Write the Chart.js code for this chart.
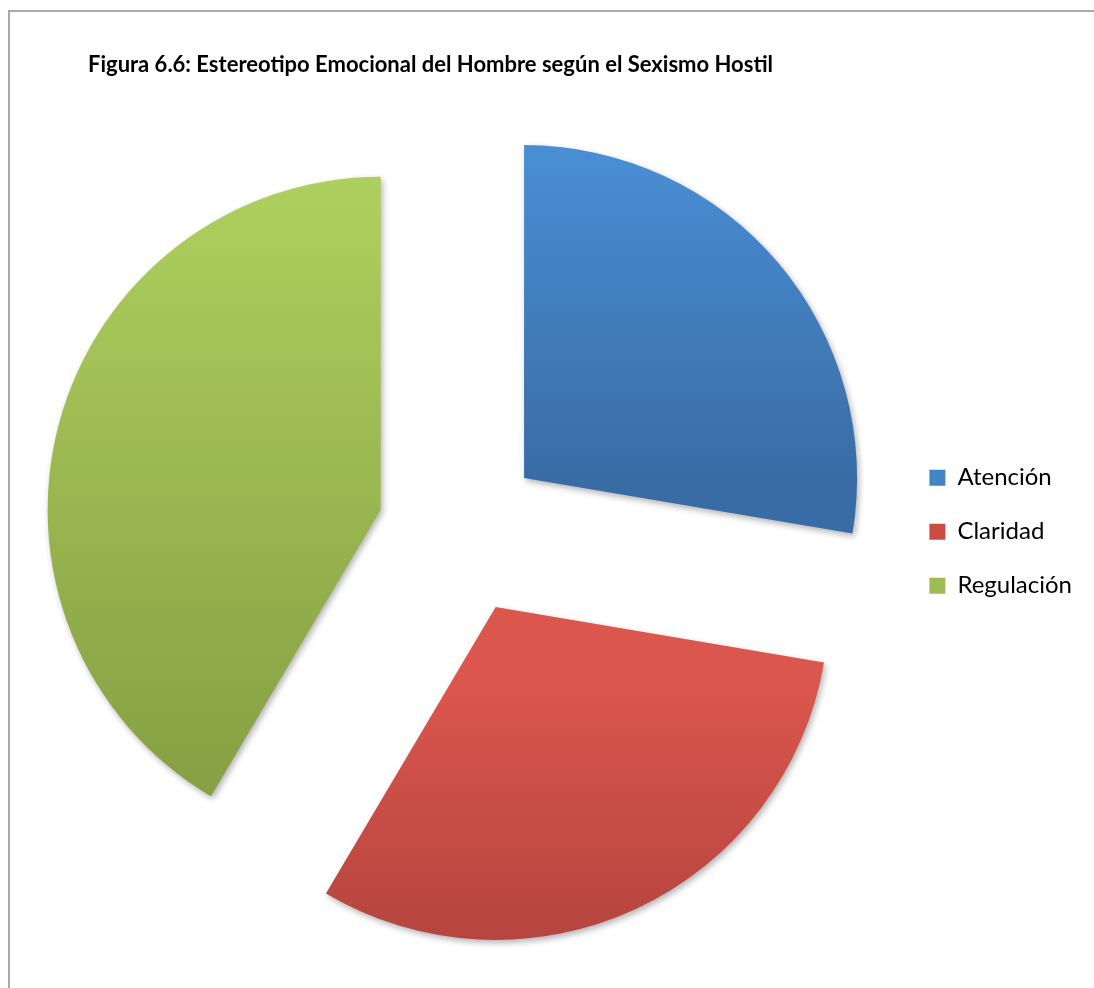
<!DOCTYPE html>
<html>
<head>
<meta charset="utf-8">
<script src="https://cdn.jsdelivr.net/npm/chart.js@4/dist/chart.umd.min.js"></script>
<style>
  body { margin: 0; background: #fff; }
  #wrap { position: relative; width: 1094px; height: 988px; overflow: hidden; }
  #frame { position: absolute; left: 8px; top: 10px; width: 1200px; height: 1200px;
           border-left: 2px solid #a9a9a9; border-top: 2px solid #a9a9a9; }
  #chart { position: absolute; left: 0; top: 0; }
</style>
</head>
<body>
<div id="wrap">
  <div id="frame"></div>
  <canvas id="chart" width="1094" height="988"></canvas>
</div>
<script>
const title = 'Figura 6.6: Estereotipo Emocional del Hombre según el Sexismo Hostil';
const labels = ['Atención', 'Claridad', 'Regulación'];
const values = [2.6, 2.9, 3.9];

const topColors = ['#4c94dc', '#db564d', '#b0d15f'];
const bottomColors = ['#396ca5', '#a9403a', '#87a144'];
const legendColors = ['#4384c6', '#cc4c44', '#9ebc54'];

const RADIUS = 333;
const EXPLODE = 332; // chart.js moves a slice out by offset / 4

// vertical gradient over the height of each exploded slice, like the Excel original
function sliceGradient(context) {
  const chart = context.chart;
  const area = chart.chartArea;
  const i = context.dataIndex;
  if (!area) return topColors[i];
  const total = values.reduce((a, b) => a + b, 0);
  const before = values.slice(0, i).reduce((a, b) => a + b, 0);
  const start = -Math.PI / 2 + 2 * Math.PI * before / total;
  const end = start + 2 * Math.PI * values[i] / total;
  const mid = (start + end) / 2;
  const cy = (area.top + area.bottom) / 2 + Math.sin(mid) * EXPLODE / 4;
  const ys = [cy, cy + RADIUS * Math.sin(start), cy + RADIUS * Math.sin(end)];
  [-Math.PI / 2, Math.PI / 2, 1.5 * Math.PI].forEach(a => {
    if (start <= a && end >= a) ys.push(cy + RADIUS * Math.sin(a));
  });
  const g = chart.ctx.createLinearGradient(0, Math.min(...ys), 0, Math.max(...ys));
  g.addColorStop(0, topColors[i]);
  g.addColorStop(1, bottomColors[i]);
  return g;
}

const slicePlugin = {
  id: 'slicePlugin',
  afterLayout(chart) {
    // title starts further right than the pie's box
    chart.titleBlock.left += 66;
    chart.titleBlock.right += 66;
  },
  beforeDatasetsDraw(chart) {
    // chart.js enlarges wide offset slices; keep every slice at the same radius
    chart.getDatasetMeta(0).data.forEach(arc => { arc.circumference = Math.PI / 2; });
    const ctx = chart.ctx;
    ctx.save();
    ctx.shadowColor = 'rgba(0,0,0,0.3)';
    ctx.shadowBlur = 6;
    ctx.shadowOffsetX = 2;
    ctx.shadowOffsetY = 3;
  },
  afterDatasetsDraw(chart) {
    chart.ctx.restore();
  }
};

new Chart(document.getElementById('chart'), {
  type: 'pie',
  data: {
    labels: labels,
    datasets: [{
      data: values,
      backgroundColor: sliceGradient,
      borderWidth: 0,
      offset: EXPLODE
    }]
  },
  options: {
    responsive: false,
    animation: false,
    radius: RADIUS,
    layout: { padding: { left: 22, right: 12, top: 0, bottom: 10 } },
    plugins: {
      title: {
        display: true,
        text: title,
        align: 'start',
        color: '#000',
        font: { family: 'Lato', size: 22, weight: 'bold' },
        padding: { top: 52, bottom: 7 }
      },
      legend: {
        position: 'right',
        fullSize: false,
        labels: {
          boxWidth: 16,
          boxHeight: 16,
          padding: 30,
          color: '#000',
          font: { family: 'Lato', size: 24 },
          generateLabels(chart) {
            return Chart.overrides.pie.plugins.legend.labels.generateLabels(chart)
              .map((item, i) => Object.assign(item, { fillStyle: legendColors[i], lineWidth: 0 }));
          }
        }
      },
      tooltip: { enabled: false }
    }
  },
  plugins: [slicePlugin]
});
</script>
</body>
</html>
